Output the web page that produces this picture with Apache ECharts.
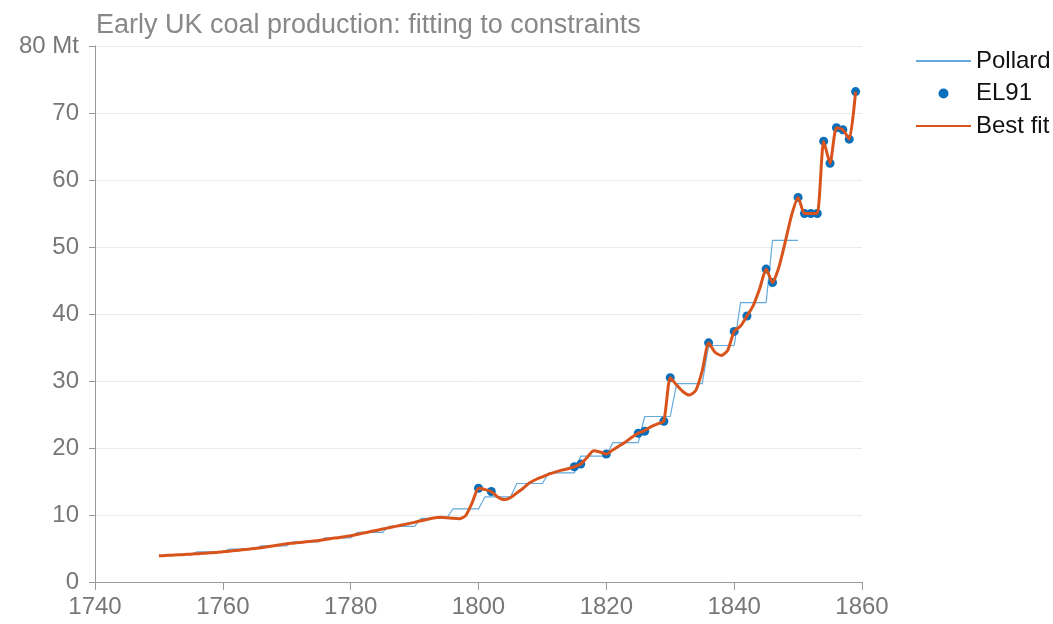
<!DOCTYPE html>
<html>
<head>
<meta charset="utf-8">
<title>Early UK coal production</title>
<script src="https://cdn.jsdelivr.net/npm/echarts@6/dist/echarts.min.js"></script>
<style>
  html, body { margin: 0; padding: 0; background: #fff; }
  #chart { width: 1053px; height: 624px; }
</style>
</head>
<body>
<div id="chart"></div>
<script>
// Pollard: 5-year period averages (Mt), periods 1751-55 ... 1846-50
const pollardStarts = [1751, 1756, 1761, 1766, 1771, 1776, 1781, 1786, 1791, 1796,
    1801, 1806, 1811, 1816, 1821, 1826, 1831, 1836, 1841, 1846];
const pollardValues = [4.1, 4.5, 4.9, 5.4, 6.0, 6.6, 7.4, 8.3, 9.5, 10.9,
    12.7, 14.7, 16.3, 18.8, 20.8, 24.7, 29.6, 35.3, 41.7, 51.0];

// EL91 annual estimates
const el91Years = [1800, 1802, 1815, 1816, 1820, 1825, 1826, 1829, 1830, 1836, 1840, 1842,
    1845, 1846, 1850, 1851, 1852, 1853, 1854, 1855, 1856, 1857, 1858, 1859];
const el91Values = [14.0, 13.5, 17.2, 17.6, 19.1, 22.2, 22.5, 24.0, 30.5, 35.7, 37.4, 39.7,
    46.7, 44.7, 57.4, 55.0, 55.0, 55.0, 65.8, 62.5, 67.8, 67.5, 66.1, 73.2];

// Best fit, one value per year from 1750
const fitStart = 1750;
const fitValues = [
    3.9, 3.95, 4.0, 4.05, 4.1, 4.15, 4.2, 4.3, 4.35, 4.4,        // 1750-59
    4.5, 4.6, 4.7, 4.8, 4.9, 5.0, 5.1, 5.25, 5.4, 5.55,          // 1760-69
    5.7, 5.8, 5.9, 6.0, 6.1, 6.2, 6.35, 6.5, 6.6, 6.75,          // 1770-79
    6.9, 7.1, 7.3, 7.5, 7.7, 7.9, 8.1, 8.3, 8.5, 8.7,            // 1780-89
    8.9, 9.15, 9.35, 9.55, 9.65, 9.6, 9.5, 9.45, 9.9, 11.8,      // 1790-99
    14.0, 13.8, 13.5, 12.7, 12.3, 12.6, 13.3, 14.0, 14.8, 15.3,  // 1800-09
    15.7, 16.1, 16.4, 16.7, 16.9, 17.2, 17.6, 18.6, 19.6, 19.4,  // 1810-19
    19.1, 19.7, 20.3, 20.9, 21.6, 22.2, 22.6, 23.2, 23.6, 24.0,  // 1820-29
    30.5, 29.4, 28.4, 27.9, 28.6, 31.5, 35.7, 34.3, 33.8, 34.6,  // 1830-39
    37.4, 38.2, 39.7, 41.3, 43.8, 46.7, 44.7, 47.0, 50.8, 54.8,  // 1840-49
    57.4, 55.0, 55.0, 55.0, 65.8, 62.5, 67.8, 67.5, 66.1, 73.2   // 1850-59
];

// build series data
const pollardData = [];
pollardStarts.forEach((y, i) => {
    for (let k = 0; k < 5; k++) pollardData.push([y + k, pollardValues[i]]);
});
const el91Data = el91Years.map((y, i) => [y, el91Values[i]]);
const fitData = fitValues.map((v, i) => [fitStart + i, v]);

const font = 'Liberation Sans, Arial, sans-serif';
// legend entries for line series: hide the symbol dot, keep the line
const noDot = { color: 'rgba(0,0,0,0)', borderWidth: 0, opacity: 0 };

const chart = echarts.init(document.getElementById('chart'));
chart.setOption({
    animation: false,
    textStyle: { fontFamily: font },
    title: {
        text: 'Early UK coal production: fitting to constraints',
        left: 96, top: 12, padding: 0,
        textStyle: { fontSize: 27, fontWeight: 'normal', color: '#888', fontFamily: font }
    },
    legend: {
        orient: 'vertical', left: 915, top: 49, padding: 0,
        itemWidth: 55, itemHeight: 10, itemGap: 8.5,
        textStyle: { fontSize: 24, color: '#111', fontFamily: font },
        data: [
            { name: 'Pollard', itemStyle: noDot },
            { name: 'EL91' },
            { name: 'Best fit', itemStyle: noDot }
        ]
    },
    grid: { left: 95, right: 191, top: 46, bottom: 42 },
    xAxis: {
        type: 'value', min: 1740, max: 1860, interval: 20,
        axisLine: { lineStyle: { color: '#999' } },
        axisTick: { length: 8, lineStyle: { color: '#999' } },
        axisLabel: { fontSize: 24, color: '#777', margin: 13, formatter: v => String(v) },
        splitLine: { show: false }
    },
    yAxis: {
        type: 'value', min: 0, max: 80, interval: 10,
        axisLine: { show: true, lineStyle: { color: '#999' } },
        axisTick: { show: true, length: 6, lineStyle: { color: '#999' } },
        axisLabel: { fontSize: 24, color: '#777', margin: 16,
            formatter: v => v === 80 ? '80 Mt' : String(v) },
        splitLine: { lineStyle: { color: '#ebebeb' } }
    },
    series: [
        {
            name: 'Pollard', type: 'line', data: pollardData,
            symbol: 'none', z: 2,
            lineStyle: { color: '#63a9dc', width: 1.2 },
            itemStyle: { color: '#63a9dc' }
        },
        {
            name: 'EL91', type: 'scatter', data: el91Data,
            symbol: 'circle', symbolSize: 9, z: 3,
            itemStyle: { color: '#0a6fbb', opacity: 1 }
        },
        {
            name: 'Best fit', type: 'line', data: fitData,
            symbol: 'none', smooth: 0.2, z: 4,
            lineStyle: { color: '#d9541c', width: 3 },
            itemStyle: { color: '#d9541c' }
        }
    ]
});
</script>
</body>
</html>
